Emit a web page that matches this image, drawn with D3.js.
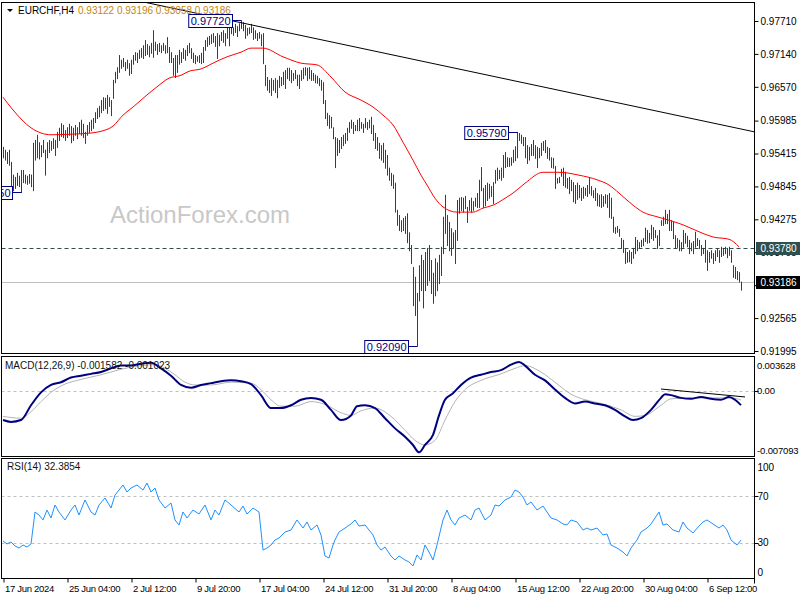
<!DOCTYPE html>
<html><head><meta charset="utf-8">
<script src="https://cdn.jsdelivr.net/npm/d3@7"></script>
<style>
body{margin:0;background:#fff;}
svg{display:block;font-family:"Liberation Sans",Arial,sans-serif;}
</style></head><body>
<svg id="c" width="800" height="600"></svg>
<script>
// ---------------- DATA ----------------
const symbol = "EURCHF,H4";
const lastOHLC = ["0.93122", "0.93196", "0.93058", "0.93186"];
const highs = [
0.9553,0.9548,0.9544,0.9548,0.9527,0.9505,0.9501,0.9508,0.9503,0.9513,
0.9513,0.9505,0.9503,0.9506,0.9505,0.9560,0.9565,0.9574,0.9561,0.9556,
0.9565,0.9548,0.9561,0.9565,0.9563,0.9568,0.9565,0.9579,0.9586,0.9594,
0.9591,0.9582,0.9587,0.9593,0.9589,0.9586,0.9591,0.9587,0.9596,0.9600,
0.9593,0.9579,0.9591,0.9596,0.9600,0.9603,0.9613,0.9620,0.9624,0.9634,
0.9639,0.9638,0.9643,0.9639,0.9634,0.9669,0.9683,0.9691,0.9712,0.9704,
0.9707,0.9700,0.9704,0.9698,0.9704,0.9712,0.9717,0.9716,0.9721,0.9724,
0.9729,0.9738,0.9731,0.9728,0.9733,0.9755,0.9735,0.9731,0.9733,0.9729,
0.9733,0.9729,0.9743,0.9726,0.9717,0.9707,0.9712,0.9712,0.9721,0.9717,
0.9724,0.9721,0.9729,0.9733,0.9724,0.9716,0.9712,0.9710,0.9712,0.9716,
0.9726,0.9738,0.9743,0.9745,0.9748,0.9750,0.9745,0.9750,0.9747,0.9752,
0.9755,0.9750,0.9759,0.9767,0.9764,0.9760,0.9766,0.9762,0.9767,0.9772,
0.9769,0.9764,0.9759,0.9760,0.9766,0.9760,0.9755,0.9750,0.9752,0.9748,
0.9750,0.9695,0.9674,0.9669,0.9672,0.9669,0.9672,0.9669,0.9676,0.9674,
0.9683,0.9686,0.9690,0.9690,0.9686,0.9681,0.9686,0.9678,0.9678,0.9686,
0.9690,0.9691,0.9690,0.9691,0.9686,0.9681,0.9678,0.9676,0.9672,0.9669,
0.9665,0.9634,0.9612,0.9608,0.9605,0.9587,0.9570,0.9568,0.9565,0.9570,
0.9574,0.9577,0.9586,0.9596,0.9600,0.9596,0.9591,0.9600,0.9603,0.9596,
0.9593,0.9603,0.9596,0.9600,0.9605,0.9591,0.9577,0.9570,0.9560,0.9556,
0.9560,0.9548,0.9539,0.9517,0.9508,0.9505,0.9491,0.9444,0.9435,0.9426,
0.9430,0.9433,0.9438,0.9405,0.9383,0.9345,0.9328,0.9300,0.9348,0.9366,
0.9357,0.9371,0.9378,0.9383,0.9357,0.9335,0.9360,0.9353,0.9366,0.9380,
0.9432,0.9470,0.9435,0.9423,0.9412,0.9405,0.9409,0.9461,0.9465,0.9466,
0.9465,0.9468,0.9449,0.9461,0.9465,0.9459,0.9465,0.9473,0.9496,0.9518,
0.9482,0.9487,0.9491,0.9489,0.9485,0.9492,0.9513,0.9517,0.9513,0.9517,
0.9539,0.9544,0.9535,0.9534,0.9535,0.9548,0.9554,0.9579,0.9577,0.9574,
0.9570,0.9570,0.9556,0.9553,0.9558,0.9565,0.9556,0.9553,0.9551,0.9560,
0.9563,0.9565,0.9553,0.9551,0.9535,0.9534,0.9520,0.9499,0.9501,0.9515,
0.9517,0.9510,0.9499,0.9501,0.9496,0.9492,0.9487,0.9491,0.9487,0.9482,
0.9484,0.9482,0.9487,0.9499,0.9485,0.9478,0.9482,0.9473,0.9470,0.9471,
0.9468,0.9471,0.9470,0.9473,0.9465,0.9432,0.9414,0.9416,0.9411,0.9395,
0.9392,0.9376,0.9371,0.9374,0.9371,0.9378,0.9397,0.9392,0.9388,0.9392,
0.9395,0.9413,0.9409,0.9404,0.9418,0.9414,0.9409,0.9400,0.9409,0.9426,
0.9432,0.9444,0.9437,0.9444,0.9426,0.9423,0.9400,0.9395,0.9392,0.9388,
0.9409,0.9404,0.9399,0.9392,0.9387,0.9390,0.9406,0.9395,0.9392,0.9383,
0.9378,0.9392,0.9374,0.9371,0.9374,0.9369,0.9374,0.9378,0.9374,0.9380,
0.9378,0.9380,0.9378,0.9380,0.9374,0.9348,0.9345,0.9338,0.9336,0.93196];
const lows = [
0.9535,0.9531,0.9525,0.9522,0.9487,0.9478,0.9482,0.9487,0.9485,0.9475,
0.9492,0.9491,0.9489,0.9491,0.9485,0.9478,0.9531,0.9535,0.9533,0.9537,
0.9544,0.9505,0.9535,0.9544,0.9548,0.9551,0.9539,0.9553,0.9565,0.9572,
0.9570,0.9565,0.9570,0.9574,0.9561,0.9565,0.9574,0.9568,0.9577,0.9574,
0.9570,0.9560,0.9574,0.9579,0.9582,0.9586,0.9596,0.9603,0.9606,0.9613,
0.9617,0.9620,0.9612,0.9624,0.9608,0.9638,0.9665,0.9672,0.9683,0.9690,
0.9693,0.9686,0.9690,0.9678,0.9681,0.9697,0.9704,0.9700,0.9707,0.9709,
0.9707,0.9712,0.9714,0.9710,0.9716,0.9709,0.9721,0.9714,0.9719,0.9717,
0.9721,0.9716,0.9717,0.9700,0.9700,0.9678,0.9674,0.9683,0.9697,0.9700,
0.9707,0.9704,0.9712,0.9717,0.9707,0.9700,0.9698,0.9702,0.9700,0.9698,
0.9700,0.9721,0.9728,0.9731,0.9733,0.9735,0.9728,0.9707,0.9729,0.9738,
0.9735,0.9729,0.9742,0.9729,0.9750,0.9747,0.9752,0.9745,0.9755,0.9759,
0.9755,0.9742,0.9747,0.9750,0.9752,0.9740,0.9742,0.9738,0.9742,0.9729,
0.9698,0.9660,0.9652,0.9648,0.9643,0.9652,0.9648,0.9639,0.9657,0.9660,
0.9662,0.9655,0.9672,0.9669,0.9665,0.9669,0.9672,0.9660,0.9655,0.9669,
0.9672,0.9678,0.9669,0.9672,0.9669,0.9669,0.9665,0.9664,0.9660,0.9652,
0.9629,0.9603,0.9591,0.9586,0.9587,0.9568,0.9518,0.9539,0.9544,0.9551,
0.9556,0.9560,0.9565,0.9579,0.9586,0.9577,0.9582,0.9582,0.9582,0.9586,
0.9579,0.9587,0.9584,0.9587,0.9577,0.9565,0.9551,0.9548,0.9534,0.9531,
0.9527,0.9517,0.9505,0.9496,0.9487,0.9482,0.9441,0.9418,0.9409,0.9407,
0.9409,0.9404,0.9388,0.9374,0.9352,0.9279,0.9262,0.92090,0.9287,0.9305,
0.9275,0.9305,0.9314,0.9322,0.9300,0.9283,0.9296,0.9305,0.9317,0.9331,
0.9369,0.9404,0.9383,0.9374,0.9366,0.9378,0.9352,0.9392,0.9439,0.9444,
0.9441,0.9447,0.9423,0.9444,0.9441,0.9444,0.9451,0.9449,0.9449,0.9478,
0.9449,0.9452,0.9461,0.9465,0.9468,0.9456,0.9491,0.9496,0.9499,0.9496,
0.9501,0.9518,0.9520,0.9520,0.9522,0.9527,0.9530,0.9535,0.9565,0.9560,
0.9556,0.9535,0.9525,0.9531,0.9539,0.9539,0.9534,0.9518,0.9535,0.9539,
0.9548,0.9544,0.9534,0.9531,0.9518,0.9517,0.9482,0.9491,0.9492,0.9503,
0.9487,0.9484,0.9482,0.9473,0.9478,0.9459,0.9456,0.9463,0.9466,0.9461,
0.9465,0.9470,0.9468,0.9473,0.9470,0.9466,0.9461,0.9452,0.9451,0.9449,
0.9451,0.9456,0.9449,0.9432,0.9430,0.9406,0.9404,0.9406,0.9399,0.9378,
0.9371,0.9352,0.9354,0.9355,0.9352,0.9361,0.9369,0.9374,0.9378,0.9381,
0.9383,0.9390,0.9387,0.9388,0.9395,0.9392,0.9397,0.9378,0.9383,0.9418,
0.9418,0.9421,0.9421,0.9409,0.9409,0.9395,0.9378,0.9380,0.9374,0.9374,
0.9380,0.9387,0.9381,0.9369,0.9374,0.9369,0.9380,0.9383,0.9378,0.9366,
0.9369,0.9354,0.9340,0.9354,0.9361,0.9352,0.9357,0.9364,0.9354,0.9364,
0.9366,0.9369,0.9362,0.9366,0.9354,0.9328,0.9326,0.9324,0.9320,0.93058];

// moving average (red), sampled at bar indices
const maBar = [0,5,14,24,34,44,49,55,60,65,72,77,83,89,93,99,105,112,119,124,130,140,149,157,164,171,179,185,190,195,200,205,209,212,216,220,227,235,240,245,251,255,261,270,278,288,297,303,308,315,320,327,333,340,348,355,363,368];
const maVal = [0.9639,0.9617,0.9586,0.9574,0.9575,0.9577,0.9580,0.9589,0.9608,0.9622,0.9643,0.9657,0.9672,0.9677,0.9684,0.9688,0.9698,0.9709,0.9717,0.9724,0.9724,0.9709,0.9698,0.9695,0.9674,0.9648,0.9634,0.9622,0.9608,0.9591,0.9561,0.9530,0.9504,0.9487,0.9464,0.9449,0.9440,0.9440,0.9447,0.9452,0.9464,0.9473,0.9490,0.9509,0.9509,0.9504,0.9496,0.9487,0.9473,0.9452,0.9440,0.9432,0.9426,0.9418,0.9406,0.9397,0.9393,0.9380];

// MACD main (navy) and signal (grey)
const macdBar = [0,4,9,14,19,24,29,34,39,44,49,54,59,64,69,74,79,84,89,94,99,104,109,114,119,124,129,134,139,144,149,154,159,164,169,174,177,181,186,191,196,201,205,208,211,215,218,221,225,229,234,239,244,249,254,258,261,266,271,276,281,286,291,296,301,306,311,315,319,324,329,331,334,339,344,349,354,359,363,366,369];
const macdVal = [-0.0032,-0.0034,-0.0032,-0.0016,-0.0002,0.0006,0.0009,0.0014,0.0016,0.0018,0.0020,0.0024,0.0027,0.0027,0.0029,0.0030,0.0024,0.0016,0.0006,0.0003,0.0006,0.0008,0.0010,0.0011,0.0010,0.0007,-0.0005,-0.0019,-0.0019,-0.0016,-0.0010,-0.0008,-0.0010,-0.0021,-0.0032,-0.0027,-0.0017,-0.0016,-0.0019,-0.0030,-0.0041,-0.0050,-0.0059,-0.0067,-0.0059,-0.0048,-0.0027,-0.0010,-0.0003,0.0006,0.0014,0.0017,0.0020,0.0022,0.0028,0.0031,0.0027,0.0017,0.0011,0.0001,-0.0008,-0.0014,-0.0012,-0.0014,-0.0016,-0.0021,-0.0028,-0.0032,-0.0030,-0.0021,-0.0008,-0.0004,-0.0005,-0.0008,-0.0009,-0.0007,-0.0009,-0.0010,-0.0007,-0.0010,-0.001582];
const signalBar = [0,9,14,19,24,29,39,49,59,69,76,81,86,91,96,104,114,124,129,134,139,146,154,161,169,174,179,186,194,201,206,211,216,221,226,231,239,249,256,261,269,276,284,291,299,309,316,321,329,334,344,354,364,369];
const signalVal = [-0.0028,-0.0030,-0.0023,-0.0012,-0.0002,0.0005,0.0012,0.0017,0.0023,0.0027,0.0028,0.0024,0.0017,0.0009,0.0006,0.0006,0.0009,0.0008,0.0001,-0.0010,-0.0017,-0.0017,-0.0012,-0.0015,-0.0024,-0.0027,-0.0022,-0.0019,-0.0028,-0.0043,-0.0054,-0.0059,-0.0054,-0.0032,-0.0012,0.0001,0.0011,0.0018,0.0024,0.0027,0.0020,0.0009,-0.0004,-0.0010,-0.0014,-0.0021,-0.0028,-0.0027,-0.0016,-0.0009,-0.0008,-0.0008,-0.0008,-0.001023];

// RSI(14)
const rsiBar = [0,2,4,6,8,10,12,14,16,18,20,22,24,26,28,31,34,36,38,41,44,46,48,51,54,56,58,60,62,64,67,70,72,74,76,78,81,84,86,88,90,92,95,98,101,104,106,108,111,114,118,120,122,125,128,130,132,134,136,138,141,144,147,150,152,154,157,159,161,163,165,166,168,171,174,176,178,181,183,185,187,189,191,194,196,198,201,203,205,207,209,211,213,215,217,219,220,222,224,226,228,231,234,236,238,241,244,246,248,251,254,256,258,260,262,264,267,270,272,274,277,280,282,284,287,290,292,294,297,300,302,304,307,310,312,314,317,319,322,324,326,328,330,332,335,338,340,342,345,348,350,352,355,358,360,362,364,367,369];
const rsiVal = [31.6,29.1,30.8,27.4,25.6,28.2,26.5,29.1,56.4,53.8,49.6,58.1,51.3,62.4,56.4,49.6,58.1,62.4,53.8,66.7,56.4,53.8,62.4,68.4,59.8,70.9,75.2,79.5,73.5,76.9,79.5,75.2,81.2,73.5,76.9,66.7,59.8,64.1,49.6,45.3,56.4,51.3,58.1,54.7,62.4,49.6,58.1,53.8,66.7,62.4,56.4,61.5,54.7,59.8,56.4,23.9,25.6,28.2,32.5,34.2,39.3,41.0,49.6,42.7,47.9,41.0,45.3,36.8,18.8,17.1,28.2,32.5,39.3,42.7,46.2,49.6,44.4,45.3,41.0,36.8,28.2,23.9,26.5,18.8,15.4,18.8,15.4,13.7,10.3,19.7,15.4,28.2,22.2,15.4,28.2,42.7,49.6,58.1,49.6,45.3,51.3,53.8,49.6,58.1,59.8,49.6,53.8,62.4,61.5,66.7,69.2,75.2,73.5,69.2,62.4,65.0,58.1,61.5,56.4,51.3,49.6,46.2,45.3,49.6,47.9,41.0,42.7,41.0,42.7,36.8,37.6,28.2,25.6,22.2,18.8,25.6,32.5,39.3,42.7,46.2,51.3,56.4,45.3,46.2,41.0,39.3,47.9,42.7,38.5,44.4,47.9,49.6,46.2,42.7,45.3,41.0,32.5,28.2,32.3854];

const priceTicks = [0.97710,0.97140,0.96570,0.95985,0.95415,0.94845,0.94275,0.93705,0.93135,0.92565,0.91995];
const timeTickBar = [0,32,64,96,128,160,192,224,256,288,320,352];
const timeTickLabels = ["17 Jun 2024","25 Jun 04:00","2 Jul 12:00","9 Jul 20:00","17 Jul 04:00","24 Jul 12:00","31 Jul 20:00","8 Aug 04:00","15 Aug 12:00","22 Aug 20:00","30 Aug 04:00","6 Sep 12:00"];
const swingBar = [119, 257, 207, 9];
const swingPrice = [0.97720, 0.95790, 0.92090, 0.94750];
const trendBar = [115, 368];
const trendPrice = [0.97710, 0.95847];
const macdTrendBar = [329, 371];
const macdTrendVal = [0.00016, -0.00070];
const levelPrice = 0.93780;
const bidPrice = 0.93186;
const macdLabel = "MACD(12,26,9) -0.001582 -0.001023";
const rsiLabel = "RSI(14) 32.3854";
const macdAxis = [0.003628, 0.0, -0.007093];
const macdAxisText = ["0.003628", "0.00", "-0.007093"];
const rsiLevels = [70, 30];
const rsiAxis = [100, 70, 30, 0];
const watermark = "ActionForex.com";

// ---------------- LAYOUT ----------------
const svg = d3.select("#c");
const L = 1.5, R = 754.5;
const P = {main:[2.5,353.5], macd:[356.5,456.5], rsi:[458.5,578.5]};
const barCol = "#174860";
const axisFont = {size: 9.5, ls: -0.15};

const x = d3.scaleLinear().domain([0, highs.length - 1]).range([3, 3 + 2 * (highs.length - 1)]);
const yMain = d3.scaleLinear().domain([0.91995, 0.97710]).range([351, 21]);
const yMacd = d3.scaleLinear().domain([-0.007093, 0.003628]).range([456, 357]);
const yRsi = d3.scaleLinear().domain([0, 100]).range([578, 461]);

svg.append("rect").attr("width",800).attr("height",600).attr("fill","#fff");

const defs = svg.append("defs");
Object.entries(P).forEach(([k,[t,b]])=>{
  defs.append("clipPath").attr("id","clip-"+k).append("rect")
    .attr("x",L).attr("y",t).attr("width",R-L).attr("height",b-t);
});

// watermark
svg.append("text").attr("x",110).attr("y",223).attr("font-size",24).attr("fill","#c8c8c8").text(watermark);

// ---- main panel ----
const gm = svg.append("g").attr("clip-path","url(#clip-main)");
gm.append("line").attr("x1",L).attr("x2",R).attr("y1",Math.round(yMain(bidPrice))+0.5).attr("y2",Math.round(yMain(bidPrice))+0.5)
  .attr("stroke","#c0c0c0").attr("stroke-width",1);
gm.append("line").attr("x1",L).attr("x2",R).attr("y1",Math.round(yMain(levelPrice))+0.5).attr("y2",Math.round(yMain(levelPrice))+0.5)
  .attr("stroke","#2f4f4f").attr("stroke-width",1).attr("stroke-dasharray","4,3");

gm.append("g").selectAll("line").data(highs).join("line")
  .attr("x1",(d,i)=>x(i)+0.5).attr("x2",(d,i)=>x(i)+0.5)
  .attr("y1",d=>yMain(d)).attr("y2",(d,i)=>yMain(lows[i])+1)
  .attr("stroke",barCol).attr("stroke-width",1);

gm.append("path").datum(maBar.map((b,i)=>[b,maVal[i]]))
  .attr("d",d3.line().x(d=>x(d[0])).y(d=>yMain(d[1])).curve(d3.curveMonotoneX))
  .attr("fill","none").attr("stroke","#ff0000").attr("stroke-width",1);

// trend line, extended across panel
{
  const x1 = x(trendBar[0]), y1 = yMain(trendPrice[0]);
  const x2 = x(trendBar[1]), y2 = yMain(trendPrice[1]);
  const s = (y2-y1)/(x2-x1);
  gm.append("line").attr("x1",0).attr("y1",y1 + (0-x1)*s).attr("x2",R).attr("y2",y1+(R-x1)*s)
    .attr("stroke","#000").attr("stroke-width",1);
}

// swing labels
swingBar.forEach((b,k)=>{
  const bx = x(b)+0.5, by = Math.round(yMain(swingPrice[k]))+0.5;
  const g = gm.append("g");
  const t = g.append("text").attr("font-size",11).attr("fill","#000080").text(swingPrice[k].toFixed(5));
  const w = t.node().getComputedTextLength();
  const right = bx - 9;
  g.append("rect").attr("x",right-w-4).attr("y",by-6).attr("width",w+4).attr("height",13)
    .attr("fill","#fff").attr("stroke","#000080");
  t.raise().attr("x",right-w-2).attr("y",by+4);
  g.append("line").attr("x1",right).attr("x2",bx).attr("y1",by).attr("y2",by).attr("stroke","#000080");
});

// header
svg.append("path").attr("d","M7,9 L13,9 L10,12 Z").attr("fill","#000");
svg.append("text").attr("x",18).attr("y",14).attr("font-size",10).attr("fill","#000").text(symbol);
svg.append("text").attr("x",78).attr("y",14).attr("font-size",10).attr("fill","#c4860f").text(lastOHLC.join(" "));

// ---- MACD panel ----
const gd = svg.append("g").attr("clip-path","url(#clip-macd)");
gd.append("line").attr("x1",L).attr("x2",R).attr("y1",Math.round(yMacd(0))+0.5).attr("y2",Math.round(yMacd(0))+0.5)
  .attr("stroke","#c0c0c0").attr("stroke-dasharray","3,3");
gd.append("path").datum(signalBar.map((b,i)=>[b,signalVal[i]]))
  .attr("d",d3.line().x(d=>x(d[0])).y(d=>yMacd(d[1])).curve(d3.curveMonotoneX))
  .attr("fill","none").attr("stroke","#b4b4b4").attr("stroke-width",1);
gd.append("path").datum(macdBar.map((b,i)=>[b,macdVal[i]]))
  .attr("d",d3.line().x(d=>x(d[0])).y(d=>yMacd(d[1])).curve(d3.curveMonotoneX))
  .attr("fill","none").attr("stroke","#000080").attr("stroke-width",2);
gd.append("line").attr("x1",x(macdTrendBar[0])).attr("y1",yMacd(macdTrendVal[0]))
  .attr("x2",x(macdTrendBar[1])).attr("y2",yMacd(macdTrendVal[1])).attr("stroke","#000");
svg.append("text").attr("x",5).attr("y",369).attr("font-size",10).attr("fill","#111").text(macdLabel);

// ---- RSI panel ----
const gr = svg.append("g").attr("clip-path","url(#clip-rsi)");
rsiLevels.forEach(v=>{
  gr.append("line").attr("x1",L).attr("x2",R).attr("y1",Math.round(yRsi(v))+0.5).attr("y2",Math.round(yRsi(v))+0.5)
    .attr("stroke","#c0c0c0").attr("stroke-dasharray","3,3");
});
gr.append("path").datum(rsiBar.map((b,i)=>[b,rsiVal[i]]))
  .attr("d",d3.line().x(d=>x(d[0])).y(d=>yRsi(d[1])))
  .attr("fill","none").attr("stroke","#1e90ff").attr("stroke-width",1);
svg.append("text").attr("x",7).attr("y",470).attr("font-size",10).attr("fill","#111").text(rsiLabel);

// ---- frames ----
Object.values(P).forEach(([t,b])=>{
  svg.append("rect").attr("x",L).attr("y",t).attr("width",R-L).attr("height",b-t)
    .attr("fill","none").attr("stroke","#000").attr("stroke-width",1);
});

// ---- axes ----
const ax = svg.append("g").attr("transform",`translate(${R},0)`)
  .call(d3.axisRight(yMain).tickValues(priceTicks).tickSize(4).tickFormat(d3.format(".5f")));
ax.select(".domain").remove();
ax.selectAll("text").attr("font-size",10).attr("font-family","Liberation Sans, Arial").attr("fill","#000").attr("x",6);
ax.selectAll("line").attr("stroke","#000");

// current price / level boxes
[[levelPrice,"#2f4f4f"],[bidPrice,"#000"]].forEach(([p,c])=>{
  const yy = Math.round(yMain(p));
  svg.append("rect").attr("x",R+1.5).attr("y",yy-6).attr("width",800-R).attr("height",13).attr("fill",c);
  svg.append("text").attr("x",R+6).attr("y",yy+4).attr("font-size",10).attr("fill","#fff").text(p.toFixed(5));
});

// MACD axis
macdAxis.forEach((v,k)=>{
  let yy = yMacd(v);
  if (k===0) yy = 365; if (k===2) yy = 450;
  svg.append("text").attr("x",R+2.5).attr("y",yy+3.5).attr("font-size",axisFont.size)
    .attr("letter-spacing",axisFont.ls).attr("fill","#000").text(macdAxisText[k]);
});
svg.append("line").attr("x1",R).attr("x2",R+4).attr("y1",Math.round(yMacd(0))+0.5).attr("y2",Math.round(yMacd(0))+0.5).attr("stroke","#000");

// RSI axis
rsiAxis.forEach(v=>{
  let yy = yRsi(v);
  if (v===100) yy = 467; if (v===0) yy = 572;
  svg.append("text").attr("x",R+3).attr("y",yy+3.5).attr("font-size",10).attr("fill","#000").text(v);
});
rsiLevels.forEach(v=>{
  svg.append("line").attr("x1",R).attr("x2",R+4).attr("y1",Math.round(yRsi(v))+0.5).attr("y2",Math.round(yRsi(v))+0.5).attr("stroke","#000");
});

// time axis
const tx = svg.append("g").attr("transform",`translate(0.5,${P.rsi[1]})`)
  .call(d3.axisBottom(x).tickValues(timeTickBar).tickSize(4).tickFormat((d,k)=>timeTickLabels[k]));
tx.select(".domain").remove();
tx.selectAll("text").attr("font-size",axisFont.size).attr("letter-spacing",-0.3).attr("font-family","Liberation Sans, Arial").attr("fill","#000")
  .attr("text-anchor","start").attr("dx",1);
tx.selectAll("line").attr("stroke","#000");
svg.append("line").attr("x1",R).attr("x2",R).attr("y1",P.rsi[1]).attr("y2",P.rsi[1]+5).attr("stroke","#000");
</script>
</body></html>
